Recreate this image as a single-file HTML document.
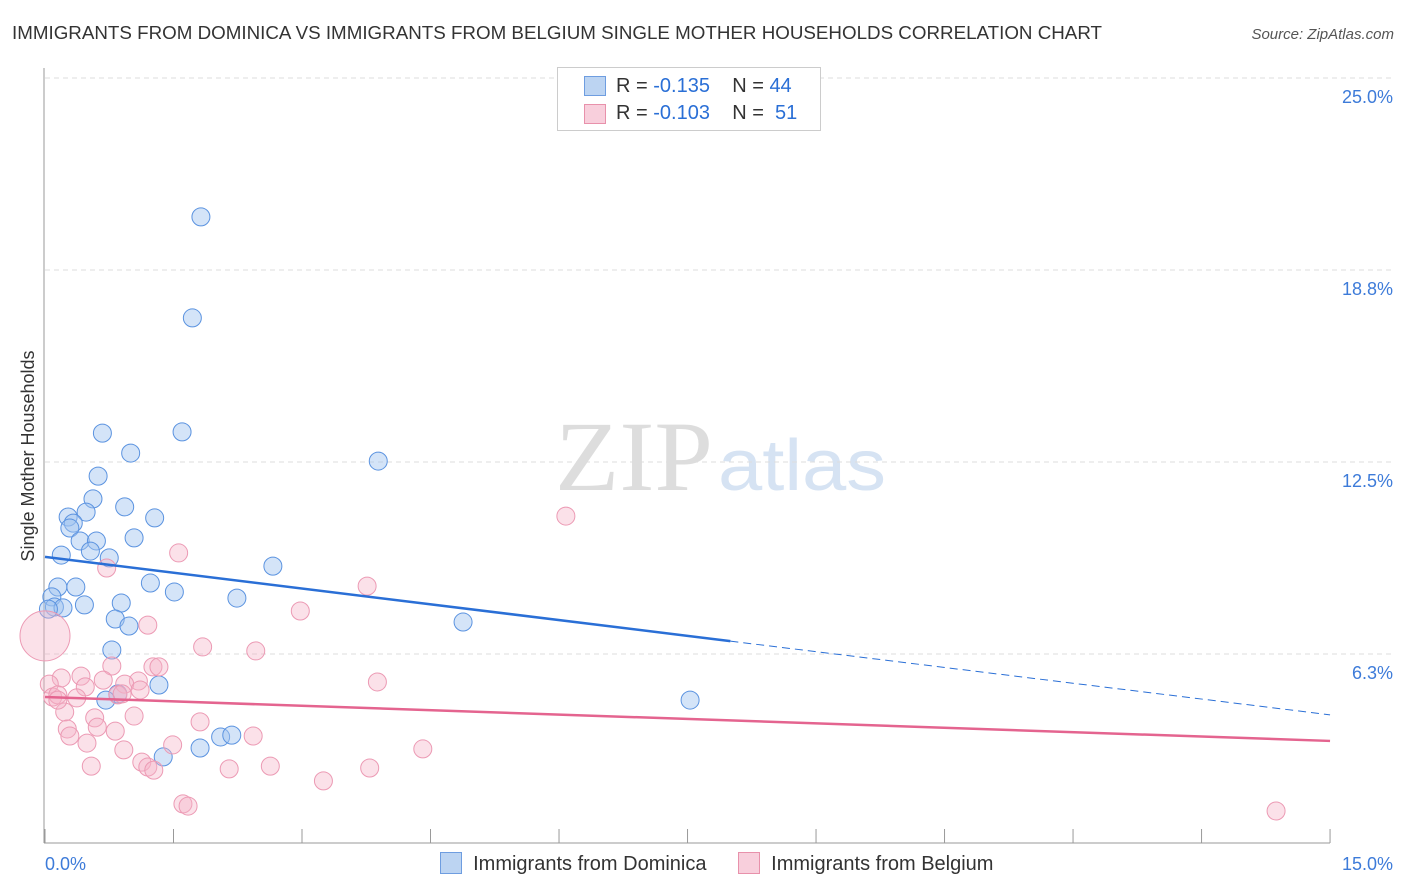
<!DOCTYPE html>
<html><head><meta charset="utf-8"><style>
body{margin:0;background:#fff;font-family:"Liberation Sans",sans-serif;}
#wrap{position:relative;width:1406px;height:892px;overflow:hidden;}
</style></head><body>
<div id="wrap">
<svg id="svg" width="1406" height="892" xmlns="http://www.w3.org/2000/svg">
<text x="12" y="39" font-size="18" fill="#333" textLength="1090" lengthAdjust="spacingAndGlyphs">IMMIGRANTS FROM DOMINICA VS IMMIGRANTS FROM BELGIUM SINGLE MOTHER HOUSEHOLDS CORRELATION CHART</text>
<text x="1394" y="39" font-size="15" fill="#555" font-style="italic" text-anchor="end">Source: ZipAtlas.com</text>
<text x="555" y="490" font-size="100" fill="#ddd" font-family="Liberation Serif,serif" textLength="158" lengthAdjust="spacingAndGlyphs">ZIP</text>
<text x="718" y="490" font-size="72" fill="#d6e3f3" textLength="168" lengthAdjust="spacingAndGlyphs">atlas</text>
<text transform="translate(34,456) rotate(-90)" font-size="18" fill="#333" text-anchor="middle">Single Mother Households</text>
<g id="grid"></g><g id="marks"></g>
</svg>
<div style="position:absolute;left:557px;top:67px;width:262px;height:62px;border:1px solid #ccc;background:#fff;font-size:20px;color:#333;">
 <div style="position:absolute;left:26px;top:8px;width:20px;height:18px;background:#bcd4f2;border:1px solid #6e9de0"></div>
 <div style="position:absolute;left:58px;top:7px">R = <span style="color:#2a6fd6">-0.135</span>&nbsp;&nbsp;&nbsp; N = <span style="color:#2a6fd6">44</span></div>
 <div style="position:absolute;left:26px;top:36px;width:20px;height:18px;background:#f8cfdc;border:1px solid #e891ab"></div>
 <div style="position:absolute;left:58px;top:34px">R = <span style="color:#2a6fd6">-0.103</span>&nbsp;&nbsp;&nbsp; N = &nbsp;<span style="color:#2a6fd6">51</span></div>
</div>
<div style="position:absolute;left:440px;top:852px;font-size:20px;color:#333;white-space:nowrap">
 <span style="display:inline-block;width:20px;height:20px;background:#bcd4f2;border:1px solid #6e9de0;vertical-align:-4px"></span>&nbsp; Immigrants from Dominica
 <span style="display:inline-block;width:20px;height:20px;background:#f8cfdc;border:1px solid #e891ab;vertical-align:-4px;margin-left:26px"></span>&nbsp; Immigrants from Belgium
</div>
</div>
<script>
const blueX=[1.82,1.72,0.67,1.60,1.00,3.89,0.62,0.56,0.93,0.27,1.28,0.48,0.33,0.29,1.04,0.41,0.60,0.19,0.53,0.75,2.66,0.15,0.36,1.23,1.51,0.08,2.24,0.46,0.89,0.11,0.21,0.04,0.82,0.98,4.88,0.78,1.33,0.85,0.71,7.53,2.05,2.18,1.81,1.38];
const blueY=[20.48,17.19,13.44,13.48,12.79,12.53,12.04,11.30,11.04,10.71,10.68,10.87,10.51,10.35,10.03,9.93,9.93,9.47,9.60,9.38,9.11,8.43,8.43,8.56,8.27,8.11,8.07,7.85,7.91,7.78,7.75,7.71,7.39,7.16,7.29,6.38,5.24,4.95,4.75,4.75,3.55,3.61,3.19,2.90];
const pinkX=[6.08,1.56,0.72,3.76,1.20,2.98,1.84,2.46,0.78,1.26,1.33,0.19,0.05,0.42,0.68,0.47,1.09,0.93,3.88,0.09,0.37,0.15,0.85,0.90,0.23,0.58,1.04,1.81,0.26,0.61,0.29,0.82,2.43,0.49,1.49,0.92,4.41,0.54,1.13,1.20,1.27,2.15,2.63,3.79,3.25,1.61,1.67,14.37,0.0,0.15,1.11];
const pinkY=[10.74,9.54,9.05,8.46,7.19,7.65,6.48,6.35,5.86,5.83,5.83,5.47,5.27,5.53,5.40,5.18,5.37,5.27,5.34,4.85,4.82,4.92,4.92,4.95,4.36,4.17,4.23,4.04,3.81,3.87,3.58,3.74,3.58,3.35,3.29,3.13,3.16,2.60,2.73,2.57,2.47,2.51,2.60,2.54,2.12,1.37,1.30,1.14,6.84,4.75,5.08];
const pinkR=pinkX.map((x,i)=>i===48?25:9);
const blueTrend=[9.41,4.27], pinkTrend=[4.85,3.42];
const yTicks=[6.25,12.5,18.75,25], yTickLabels=["6.3%","12.5%","18.8%","25.0%"];
const xs=v=>45+v*85.67, ys=v=>654+(6.25-v)*30.72;
const NS="http://www.w3.org/2000/svg";
function mk(p,t,a){const e=document.createElementNS(NS,t);for(const k in a)e.setAttribute(k,a[k]);p.appendChild(e);return e;}
const g=document.getElementById('grid'),m=document.getElementById('marks');
yTicks.forEach((v,i)=>{const l=mk(g,'line',{x1:45,x2:1394,y1:ys(v),y2:ys(v),stroke:'#ddd','stroke-dasharray':'5,4'});


const t=mk(g,'text',{x:1393,y:ys(v)+25,'font-size':18,fill:'#3d7bd9','text-anchor':'end'});t.textContent=yTickLabels[i];

});
const ax=mk(g,'line',{x1:44,x2:44,y1:68,y2:843,stroke:'#999'});


const bx=mk(g,'line',{x1:44,x2:1330,y1:843,y2:843,stroke:'#999'});


for(let i=0;i<=10;i++){const t=mk(g,'line',{x1:xs(i*1.5),x2:xs(i*1.5),y1:829,y2:843,stroke:'#999'});

}
[[0,"0.0%","start",45],[15,"15.0%","end",1393]].forEach(a=>{const t=mk(g,'text',{x:a[3],y:870,'font-size':18,fill:'#3d7bd9','text-anchor':a[2]});t.textContent=a[1];

});
blueX.forEach((x,i)=>{const c=mk(m,'circle',{cx:xs(x),cy:ys(blueY[i]),r:9,fill:'rgba(160,195,240,0.45)',stroke:'#5b93e0','stroke-width':1});

});
pinkX.forEach((x,i)=>{const c=mk(m,'circle',{cx:xs(x),cy:ys(pinkY[i]),r:pinkR[i],fill:'rgba(245,180,200,0.4)',stroke:'#ec9ab4','stroke-width':1});

});
const by=x=>blueTrend[0]+(blueTrend[1]-blueTrend[0])*x/15, py=x=>pinkTrend[0]+(pinkTrend[1]-pinkTrend[0])*x/15;
let l=mk(m,'line',{x1:xs(0),y1:ys(by(0)),x2:xs(8),y2:ys(by(8)),stroke:'#2a6fd6','stroke-width':2.5});


l=mk(m,'line',{x1:xs(8),y1:ys(by(8)),x2:xs(15),y2:ys(by(15)),stroke:'#2a6fd6','stroke-width':1,'stroke-dasharray':'8,5'});


l=mk(m,'line',{x1:xs(0),y1:ys(py(0)),x2:xs(15),y2:ys(py(15)),stroke:'#e4648f','stroke-width':2.5});


</script>
</body></html>
